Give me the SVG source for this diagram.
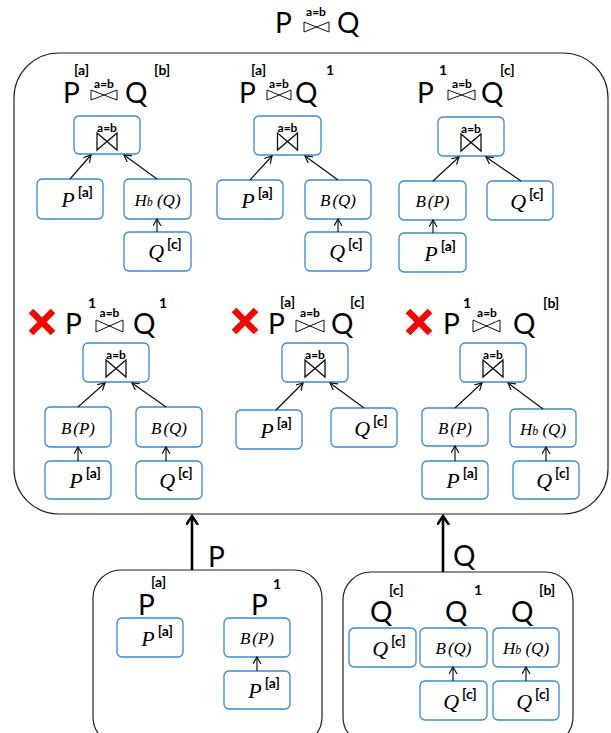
<svg xmlns="http://www.w3.org/2000/svg" width="611" height="733" viewBox="0 0 611 733">
<defs>
<style>
.frame{fill:none;stroke:#222;stroke-width:1.2}
.box{fill:#fff;stroke:#3a8ad0;stroke-width:1.3}
.bt{fill:none;stroke:#111;stroke-width:1.3}
.lbt{fill:none;stroke:#111;stroke-width:1}
.ln{stroke:#111;stroke-width:1.2;fill:none;marker-end:url(#ah)}
.thick{stroke:#000;stroke-width:2.6;fill:none;marker-end:url(#ahb)}
.big{font-family:Lato,"Liberation Sans",sans-serif;font-size:28px;fill:#000}
.sup{font-family:Lato,"Liberation Sans",sans-serif;font-weight:bold;font-size:14px;fill:#000}
.cond{font-family:Lato,"Liberation Sans",sans-serif;font-weight:bold;font-size:12px;text-anchor:middle;fill:#000}
.v{text-anchor:middle}
.vi{font-family:"Liberation Serif",serif;font-style:italic;font-size:22px;fill:#000}
.vs{font-family:Lato,"Liberation Sans",sans-serif;font-weight:bold;font-size:14px;font-style:normal;fill:#000}
.fn{font-family:"Liberation Serif",serif;font-style:italic;font-size:17px;text-anchor:middle;fill:#000}
.fs{font-size:12px}
.no{stroke:#ff0000;stroke-width:6.5;fill:none}
</style>
<marker id="ah" markerWidth="10" markerHeight="10" refX="7" refY="4" orient="auto" markerUnits="userSpaceOnUse">
<path d="M0,0 L7,4 L0,8" fill="none" stroke="#111" stroke-width="1.2"/>
</marker>
<marker id="ahb" markerWidth="14" markerHeight="14" refX="9" refY="6" orient="auto" markerUnits="userSpaceOnUse">
<path d="M0,0 L9,6 L0,12" fill="none" stroke="#000" stroke-width="2.6"/>
</marker>
</defs>
<rect width="611" height="733" fill="#fff"/>

<!-- heading: P join Q -->
<g id="title">
<text class="big" x="275" y="33">P</text>
<text class="cond" x="316" y="16">a=b</text>
<path class="lbt" d="M304 22 L329 32 V22 L304 32 Z"/>
<text class="big" x="337" y="33">Q</text>
</g>

<!-- outer frames -->
<rect id="plans" class="frame" x="14" y="53" width="594" height="461" rx="45"/>
<rect id="sourceP" class="frame" x="93" y="570" width="229" height="175" rx="28"/>
<rect id="sourceQ" class="frame" x="343" y="572" width="230" height="173" rx="28"/>

<!-- plan 1 -->
<g id="plan1">
<text class="big" x="63" y="103">P</text>
<text class="sup" x="74" y="75">[a]</text>
<text class="cond" x="104" y="88">a=b</text>
<path class="lbt" d="M91 90 L117 100 V90 L91 100 Z"/>
<text class="big" x="125" y="103">Q</text>
<text class="sup" x="154" y="75">[b]</text>
<g id="p1-join"><rect class="box" x="74" y="116" width="66" height="38" rx="5"/>
<text class="cond" x="107" y="132">a=b</text><path class="bt" d="M97 133 L117 150 V133 L97 150 Z"/></g>
<g id="p1-p"><rect class="box" x="37" y="179" width="66" height="40" rx="5"/>
<text class="v" x="77" y="207"><tspan class="vi">P</tspan><tspan class="vs" dx="3" dy="-10">[a]</tspan></text></g>
<g id="p1-hq"><rect class="box" x="124" y="179" width="67" height="40" rx="5"/>
<text class="fn" x="157.5" y="206">H<tspan class="fs">b</tspan> (Q)</text></g>
<g id="p1-q"><rect class="box" x="124" y="232" width="67" height="39" rx="5"/>
<text class="v" x="165" y="259"><tspan class="vi">Q</tspan><tspan class="vs" dx="3" dy="-10">[c]</tspan></text></g>
</g>

<!-- plan 2 -->
<g id="plan2">
<text class="big" x="239" y="103">P</text>
<text class="sup" x="251" y="75">[a]</text>
<text class="cond" x="279" y="88">a=b</text>
<path class="lbt" d="M267 90 L291 100 V90 L267 100 Z"/>
<text class="big" x="295" y="103">Q</text>
<text class="sup" x="326" y="75">1</text>
<g id="p2-join"><rect class="box" x="254" y="116" width="67" height="39" rx="5"/>
<text class="cond" x="287.5" y="132">a=b</text><path class="bt" d="M277.5 133 L297.5 150 V133 L277.5 150 Z"/></g>
<g id="p2-p"><rect class="box" x="217" y="180" width="66" height="39" rx="5"/>
<text class="v" x="257" y="208"><tspan class="vi">P</tspan><tspan class="vs" dx="3" dy="-10">[a]</tspan></text></g>
<g id="p2-bq"><rect class="box" x="305" y="180" width="66" height="39" rx="5"/>
<text class="fn" x="338" y="206">B<tspan dx="2">(Q)</tspan></text></g>
<g id="p2-q"><rect class="box" x="305" y="232" width="66" height="39" rx="5"/>
<text class="v" x="346" y="259"><tspan class="vi">Q</tspan><tspan class="vs" dx="3" dy="-10">[c]</tspan></text></g>
</g>

<!-- plan 3 -->
<g id="plan3">
<text class="big" x="417" y="103">P</text>
<text class="sup" x="439" y="75">1</text>
<text class="cond" x="462" y="88">a=b</text>
<path class="lbt" d="M448 90 L475 100 V90 L448 100 Z"/>
<text class="big" x="481" y="103">Q</text>
<text class="sup" x="500" y="75">[c]</text>
<g id="p3-join"><rect class="box" x="438" y="117" width="66" height="39" rx="5"/>
<text class="cond" x="471" y="133">a=b</text><path class="bt" d="M461 134 L481 151 V134 L461 151 Z"/></g>
<g id="p3-bp"><rect class="box" x="399" y="181" width="67" height="39" rx="5"/>
<text class="fn" x="432.5" y="207">B<tspan dx="2">(P)</tspan></text></g>
<g id="p3-q"><rect class="box" x="487" y="181" width="66" height="39" rx="5"/>
<text class="v" x="527" y="209"><tspan class="vi">Q</tspan><tspan class="vs" dx="3" dy="-10">[c]</tspan></text></g>
<g id="p3-p"><rect class="box" x="399" y="233" width="67" height="39" rx="5"/>
<text class="v" x="440" y="261"><tspan class="vi">P</tspan><tspan class="vs" dx="3" dy="-10">[a]</tspan></text></g>
</g>

<!-- plan 4 (rejected) -->
<g id="plan4">
<path class="no" d="M31 311 L53 333 M53 311 L31 333"/>
<text class="big" x="65" y="334">P</text>
<text class="sup" x="88" y="308">1</text>
<text class="cond" x="109.5" y="317">a=b</text>
<path class="lbt" d="M96 320 L123 332 V320 L96 332 Z"/>
<text class="big" x="133" y="334">Q</text>
<text class="sup" x="159" y="308">1</text>
<g id="p4-join"><rect class="box" x="83" y="343" width="66" height="39" rx="5"/>
<text class="cond" x="116" y="359">a=b</text><path class="bt" d="M106 360 L126 377 V360 L106 377 Z"/></g>
<g id="p4-bp"><rect class="box" x="45" y="407" width="66" height="40" rx="5"/>
<text class="fn" x="78" y="434">B<tspan dx="2">(P)</tspan></text></g>
<g id="p4-bq"><rect class="box" x="136" y="407" width="66" height="40" rx="5"/>
<text class="fn" x="169" y="434">B<tspan dx="2">(Q)</tspan></text></g>
<g id="p4-p"><rect class="box" x="45" y="461" width="66" height="38" rx="5"/>
<text class="v" x="85" y="488"><tspan class="vi">P</tspan><tspan class="vs" dx="3" dy="-10">[a]</tspan></text></g>
<g id="p4-q"><rect class="box" x="136" y="461" width="66" height="38" rx="5"/>
<text class="v" x="176" y="488"><tspan class="vi">Q</tspan><tspan class="vs" dx="3" dy="-10">[c]</tspan></text></g>
</g>

<!-- plan 5 (rejected) -->
<g id="plan5">
<path class="no" d="M234 310 L256 332 M256 310 L234 332"/>
<text class="big" x="268" y="334">P</text>
<text class="sup" x="280" y="307">[a]</text>
<text class="cond" x="310" y="317">a=b</text>
<path class="lbt" d="M296 320 L324 332 V320 L296 332 Z"/>
<text class="big" x="331" y="334">Q</text>
<text class="sup" x="350" y="307">[c]</text>
<g id="p5-join"><rect class="box" x="282" y="343" width="66" height="39" rx="5"/>
<text class="cond" x="315" y="359">a=b</text><path class="bt" d="M305 360 L325 377 V360 L305 377 Z"/></g>
<g id="p5-p"><rect class="box" x="236" y="410" width="66" height="39" rx="5"/>
<text class="v" x="276" y="438"><tspan class="vi">P</tspan><tspan class="vs" dx="3" dy="-10">[a]</tspan></text></g>
<g id="p5-q"><rect class="box" x="331" y="408" width="66" height="39" rx="5"/>
<text class="v" x="371" y="436"><tspan class="vi">Q</tspan><tspan class="vs" dx="3" dy="-10">[c]</tspan></text></g>
</g>

<!-- plan 6 (rejected) -->
<g id="plan6">
<path class="no" d="M408 311 L430 333 M430 311 L408 333"/>
<text class="big" x="443" y="334">P</text>
<text class="sup" x="463" y="308">1</text>
<text class="cond" x="487" y="317">a=b</text>
<path class="lbt" d="M473 320 L500 332 V320 L473 332 Z"/>
<text class="big" x="513" y="334">Q</text>
<text class="sup" x="543" y="308">[b]</text>
<g id="p6-join"><rect class="box" x="460" y="343" width="66" height="39" rx="5"/>
<text class="cond" x="493" y="359">a=b</text><path class="bt" d="M483 360 L503 377 V360 L483 377 Z"/></g>
<g id="p6-bp"><rect class="box" x="422" y="408" width="66" height="38" rx="5"/>
<text class="fn" x="455" y="434">B<tspan dx="2">(P)</tspan></text></g>
<g id="p6-hq"><rect class="box" x="510" y="409" width="66" height="38" rx="5"/>
<text class="fn" x="543" y="435">H<tspan class="fs">b</tspan> (Q)</text></g>
<g id="p6-p"><rect class="box" x="422" y="461" width="66" height="38" rx="5"/>
<text class="v" x="462" y="488"><tspan class="vi">P</tspan><tspan class="vs" dx="3" dy="-10">[a]</tspan></text></g>
<g id="p6-q"><rect class="box" x="513" y="461" width="66" height="38" rx="5"/>
<text class="v" x="553" y="488"><tspan class="vi">Q</tspan><tspan class="vs" dx="3" dy="-10">[c]</tspan></text></g>
</g>

<!-- access paths for P -->
<g id="accessP">
<text class="big" x="138" y="615">P</text>
<text class="sup" x="151" y="587">[a]</text>
<text class="big" x="251" y="615">P</text>
<text class="sup" x="273" y="589">1</text>
<g id="ap-p"><rect class="box" x="117" y="618" width="66" height="39" rx="5"/>
<text class="v" x="157" y="646"><tspan class="vi">P</tspan><tspan class="vs" dx="3" dy="-10">[a]</tspan></text></g>
<g id="ap-bp"><rect class="box" x="224" y="618" width="66" height="39" rx="5"/>
<text class="fn" x="257" y="644">B<tspan dx="2">(P)</tspan></text></g>
<g id="ap-p2"><rect class="box" x="224" y="671" width="66" height="38" rx="5"/>
<text class="v" x="264" y="698"><tspan class="vi">P</tspan><tspan class="vs" dx="3" dy="-10">[a]</tspan></text></g>
</g>

<!-- access paths for Q -->
<g id="accessQ">
<text class="big" x="370" y="622">Q</text>
<text class="sup" x="389" y="595">[c]</text>
<text class="big" x="445" y="622">Q</text>
<text class="sup" x="474" y="595">1</text>
<text class="big" x="511" y="622">Q</text>
<text class="sup" x="539" y="595">[b]</text>
<g id="aq-q"><rect class="box" x="349" y="628" width="67" height="39" rx="5"/>
<text class="v" x="389" y="656"><tspan class="vi">Q</tspan><tspan class="vs" dx="3" dy="-10">[c]</tspan></text></g>
<g id="aq-bq"><rect class="box" x="420" y="628" width="67" height="39" rx="5"/>
<text class="fn" x="453.5" y="654">B<tspan dx="2">(Q)</tspan></text></g>
<g id="aq-hq"><rect class="box" x="493" y="628" width="66" height="39" rx="5"/>
<text class="fn" x="526" y="654">H<tspan class="fs">b</tspan> (Q)</text></g>
<g id="aq-q2"><rect class="box" x="420" y="681" width="67" height="39" rx="5"/>
<text class="v" x="460" y="709"><tspan class="vi">Q</tspan><tspan class="vs" dx="3" dy="-10">[c]</tspan></text></g>
<g id="aq-q3"><rect class="box" x="493" y="681" width="66" height="39" rx="5"/>
<text class="v" x="533" y="709"><tspan class="vi">Q</tspan><tspan class="vs" dx="3" dy="-10">[c]</tspan></text></g>
</g>

<!-- connectors -->
<g id="edges">
<line class="ln" x1="70" y1="179" x2="91" y2="155"/>
<line class="ln" x1="157" y1="179" x2="124" y2="155"/>
<line class="ln" x1="157" y1="232" x2="157" y2="219"/>
<line class="ln" x1="250" y1="180" x2="272" y2="156"/>
<line class="ln" x1="338" y1="180" x2="305" y2="156"/>
<line class="ln" x1="338" y1="232" x2="338" y2="219"/>
<line class="ln" x1="433" y1="181" x2="459" y2="157"/>
<line class="ln" x1="521" y1="181" x2="486" y2="157"/>
<line class="ln" x1="433" y1="233" x2="433" y2="220"/>
<line class="ln" x1="78" y1="407" x2="105" y2="383"/>
<line class="ln" x1="166" y1="407" x2="132" y2="383"/>
<line class="ln" x1="78" y1="461" x2="78" y2="447"/>
<line class="ln" x1="166" y1="461" x2="166" y2="447"/>
<line class="ln" x1="276" y1="410" x2="303" y2="383"/>
<line class="ln" x1="364" y1="408" x2="330" y2="383"/>
<line class="ln" x1="455" y1="408" x2="482" y2="383"/>
<line class="ln" x1="543" y1="409" x2="508" y2="383"/>
<line class="ln" x1="455" y1="461" x2="455" y2="446"/>
<line class="ln" x1="546" y1="461" x2="546" y2="447"/>
<line class="ln" x1="257" y1="671" x2="257" y2="657"/>
<line class="ln" x1="453" y1="681" x2="453" y2="667"/>
<line class="ln" x1="526" y1="681" x2="526" y2="667"/>
<line class="thick" x1="192" y1="570" x2="192" y2="516"/>
<line class="thick" x1="443" y1="572" x2="443" y2="516"/>
<text class="big" x="208" y="567">P</text>
<text class="big" x="453" y="566">Q</text>
</g>
</svg>
